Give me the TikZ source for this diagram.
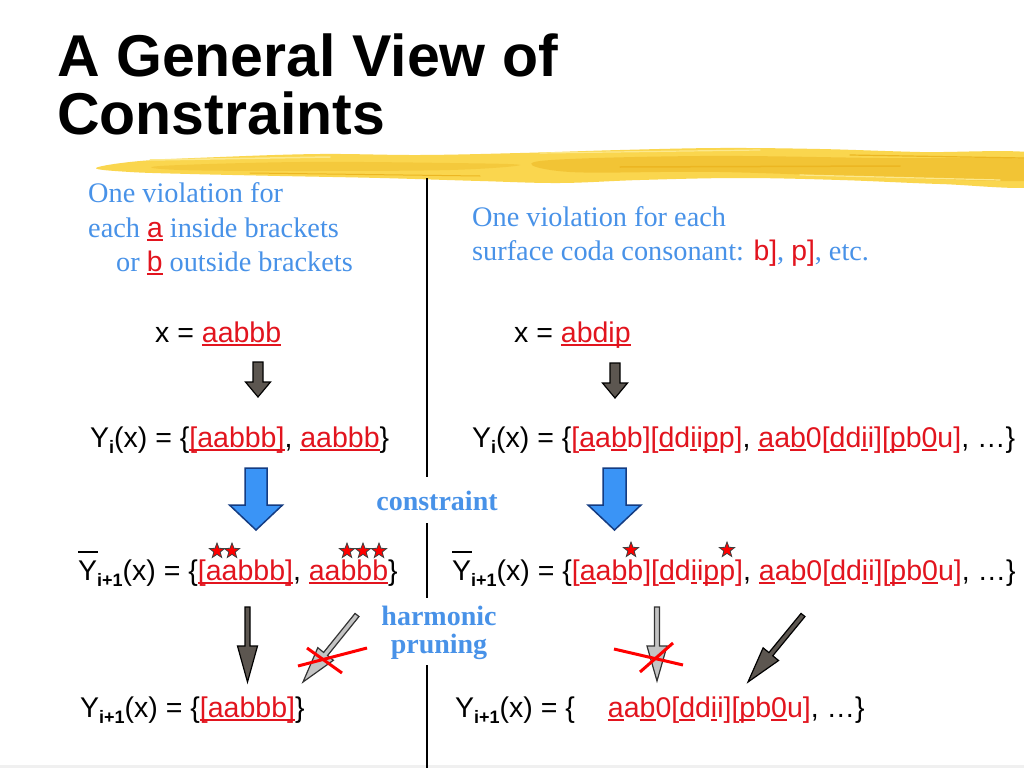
\documentclass[tikz,border=0pt]{standalone}
\usepackage{fontspec}
\setmainfont{Liberation Sans}
\newfontfamily\serifface{Liberation Serif}
\usetikzlibrary{shapes.geometric,calc}

\definecolor{tred}{RGB}{226,20,30}
\definecolor{tblue}{RGB}{72,146,232}
\definecolor{ablue}{RGB}{58,148,246}
\definecolor{ablueedge}{RGB}{20,60,130}
\definecolor{agray}{RGB}{92,86,80}
\definecolor{lgray}{RGB}{196,196,196}
\definecolor{brushA}{RGB}{250,214,78}
\definecolor{brushB}{RGB}{236,182,34}
\definecolor{brushC}{RGB}{252,232,140}

\newcommand\uln[1]{\setbox0\hbox{#1}\rlap{\rule[-3.6pt]{\wd0}{1.6pt}}\box0\relax}
\newcommand\subsc[1]{\raisebox{-6.5pt}{\fontsize{18}{18}\selectfont\bfseries #1}}
\newcommand\ybar{\rlap{\rule[27pt]{19.5pt}{2.2pt}}Y}
\newcommand\rd[1]{\textcolor{tred}{#1}}

\newcommand\blockarrow[6]{%
  \coordinate (ba-h) at ($(#2)!#5!(#1)$);
  \draw[#6] ($(#1)!#3!90:(#2)$) -- ($(ba-h)!#3!90:(#2)$) -- ($(ba-h)!#4!90:(#2)$)
    -- (#2) -- ($(ba-h)!#4!-90:(#2)$) -- ($(ba-h)!#3!-90:(#2)$) -- ($(#1)!#3!-90:(#2)$) -- cycle;
}

\tikzset{
  sans/.style={anchor=base west, inner sep=0, font=\fontsize{28.5}{34}\selectfont},
  bluetxt/.style={anchor=base west, inner sep=0, text=tblue, font=\serifface\fontsize{28.3}{34}\selectfont},
  bluebold/.style={anchor=base, inner sep=0, text=tblue, font=\serifface\bfseries\fontsize{28}{34}\selectfont},
  titletxt/.style={anchor=base west, inner sep=0, font=\bfseries\fontsize{59}{60}\selectfont},
  starnode/.style={star, star points=5, star point ratio=2.4, fill=red, draw=black!75, line width=0.8pt, minimum size=16pt, inner sep=0},
  bluearrow/.style={fill=ablue, draw=ablueedge, line width=1.5pt, line join=miter},
  darkarrow/.style={fill=agray, draw=black, line width=1.2pt, line join=miter},
  grayarrow/.style={fill=lgray, draw=black!80, line width=1.2pt, line join=miter},
  cross/.style={draw=red, line width=3pt},
  divider/.style={draw=black, line width=1.4pt},
  streak/.style={line cap=round},
}

\begin{document}
\begin{tikzpicture}[x=1pt,y=-1pt]
\fill[white] (0,0) rectangle (1024,768);
\useasboundingbox (0,0) rectangle (1024,768);

% brush stroke
\fill[brushA] plot[smooth cycle, tension=0.6] coordinates {(96,168) (140,161) (220,157) (320,154) (420,155) (520,153) (620,150) (720,148) (820,149) (920,152) (1040,154) (1040,186) (940,184) (840,180) (740,178) (640,180) (560,183) (480,181) (380,178) (280,176) (190,174) (130,172)};
\fill[brushB, opacity=0.55] plot[smooth cycle, tension=0.6] coordinates {(540,161) (700,156) (880,158) (1040,160) (1040,180) (900,178) (720,172) (570,172)};
\fill[brushB, opacity=0.4] plot[smooth cycle, tension=0.6] coordinates {(160,166) (300,162) (450,163) (520,165) (450,170) (300,171) (180,170)};
\draw[streak, brushC, line width=1.5pt] (150,160) -- (330,157);
\draw[streak, brushC, line width=1.2pt] (540,153) -- (760,150);
\draw[streak, brushC, line width=1.2pt] (800,175) -- (1000,180);
\draw[streak, brushB, line width=1.5pt] (620,167) -- (900,166);
\draw[streak, brushB, line width=1pt] (250,173) -- (480,176);
\draw[streak, brushB, line width=1.2pt] (850,155) -- (1024,158);
\fill[black!6] (0,765) rectangle (1024,768);

% title
\node[titletxt] (t1) at (57,77) {A General View of};
\node[titletxt] (t2) at (57,134) {Constraints};

% divider
\draw[divider] (427,178) -- (427,477);
\draw[divider] (427,523) -- (427,598);
\draw[divider] (427,665) -- (427,768);

% blue explanations
\node[bluetxt] (l1) at (88,202) {One violation for};
\node[bluetxt] (l2) at (88,237) {each \rd{\normalfont\uln{a}} inside brackets};
\node[bluetxt] (l3) at (116,271) {or \rd{\normalfont\uln{b}} outside brackets};
\node[bluetxt] (r1) at (472,226) {One violation for each};
\node[bluetxt] (r2) at (472,260) {surface coda consonant: \rd{\normalfont b]}, \rd{\normalfont p]}, etc.};

% inputs
\node[sans] (xl) at (155,342) {x = \rd{\uln{aabbb}}};
\node[sans] (xr) at (514,342) {x = \rd{\uln{abdip}}};

% Y_i
\node[sans] (yil) at (90,447) {Y\subsc{i}(x) = \{\rd{\uln{[aabbb]}}, \rd{\uln{aabbb}}\}};
\node[sans] (yir) at (472,447) {Y\subsc{i}(x) = \{\rd{[\uln{a}a\uln{b}b][\uln{d}d\uln{i}i\uln{p}p]}, \rd{\uln{a}a\uln{b}0[\uln{d}d\uln{i}i][\uln{p}b\uln{0}u]}, \dots\}};

% Ybar_{i+1}
\node[sans] (ybl) at (78,580) {\ybar\subsc{i+1}(x) = \{\rd{\uln{[aabbb]}}, \rd{\uln{aabbb}}\}};
\node[sans] (ybr) at (452,580) {\ybar\subsc{i+1}(x) = \{\rd{[\uln{a}a\uln{b}b][\uln{d}d\uln{i}i\uln{p}p]}, \rd{\uln{a}a\uln{b}0[\uln{d}d\uln{i}i][\uln{p}b\uln{0}u]}, \dots\}};

% Y_{i+1}
\node[sans] (yl) at (80,717) {Y\subsc{i+1}(x) = \{\rd{\uln{[aabbb]}}\}};
\node[sans] (yr) at (455,717) {Y\subsc{i+1}(x) = \{\hspace{33pt}\rd{\uln{a}a\uln{b}0[\uln{d}d\uln{i}i][\uln{p}b\uln{0}u]}, \dots\}};

% labels
\node[bluebold] (lc) at (437,510) {constraint};
\node[bluebold] (lh) at (439,625) {harmonic};
\node[bluebold] (lp) at (439,653) {pruning};

% stars
\node[starnode] (s1) at (217,551) {};
\node[starnode] (s2) at (232,551) {};
\node[starnode] (s3) at (347,551) {};
\node[starnode] (s4) at (363,551) {};
\node[starnode] (s5) at (379,551) {};
\node[starnode] (s6) at (631,550) {};
\node[starnode] (s7) at (727,550) {};

% arrow coordinates
\coordinate (a1s) at (258,362); \coordinate (a1t) at (258,397);
\coordinate (a2s) at (615,363); \coordinate (a2t) at (615,398);
\coordinate (b1s) at (256,468); \coordinate (b1t) at (256,530);
\coordinate (b2s) at (614.5,468); \coordinate (b2t) at (614.5,530);
\coordinate (c1s) at (247.5,607); \coordinate (c1t) at (247.5,682);
\coordinate (c2s) at (357,615); \coordinate (c2t) at (303,682);
\coordinate (c3s) at (657,607); \coordinate (c3t) at (657,681);
\coordinate (c4s) at (803,615); \coordinate (c4t) at (748,682);

\blockarrow{a1s}{a1t}{5pt}{12.5pt}{15pt}{darkarrow}
\blockarrow{a2s}{a2t}{5pt}{12.5pt}{15pt}{darkarrow}
\blockarrow{b1s}{b1t}{11pt}{26.5pt}{25pt}{bluearrow}
\blockarrow{b2s}{b2t}{11.5pt}{26.5pt}{25pt}{bluearrow}
\blockarrow{c1s}{c1t}{2.5pt}{10pt}{36pt}{darkarrow}
\blockarrow{c2s}{c2t}{2.5pt}{10pt}{36pt}{grayarrow}
\blockarrow{c3s}{c3t}{2.5pt}{10pt}{35pt}{grayarrow}
\blockarrow{c4s}{c4t}{2.5pt}{10pt}{36pt}{darkarrow}

% crosses
\coordinate (x1a) at (298,666); \coordinate (x1b) at (367,648);
\coordinate (x1c) at (307,648); \coordinate (x1d) at (342,673);
\coordinate (x2a) at (614,649); \coordinate (x2b) at (683,665);
\coordinate (x2c) at (640,672); \coordinate (x2d) at (673,643);
\draw[cross] (x1a) -- (x1b);
\draw[cross] (x1c) -- (x1d);
\draw[cross] (x2a) -- (x2b);
\draw[cross] (x2c) -- (x2d);
\end{tikzpicture}
\end{document}
